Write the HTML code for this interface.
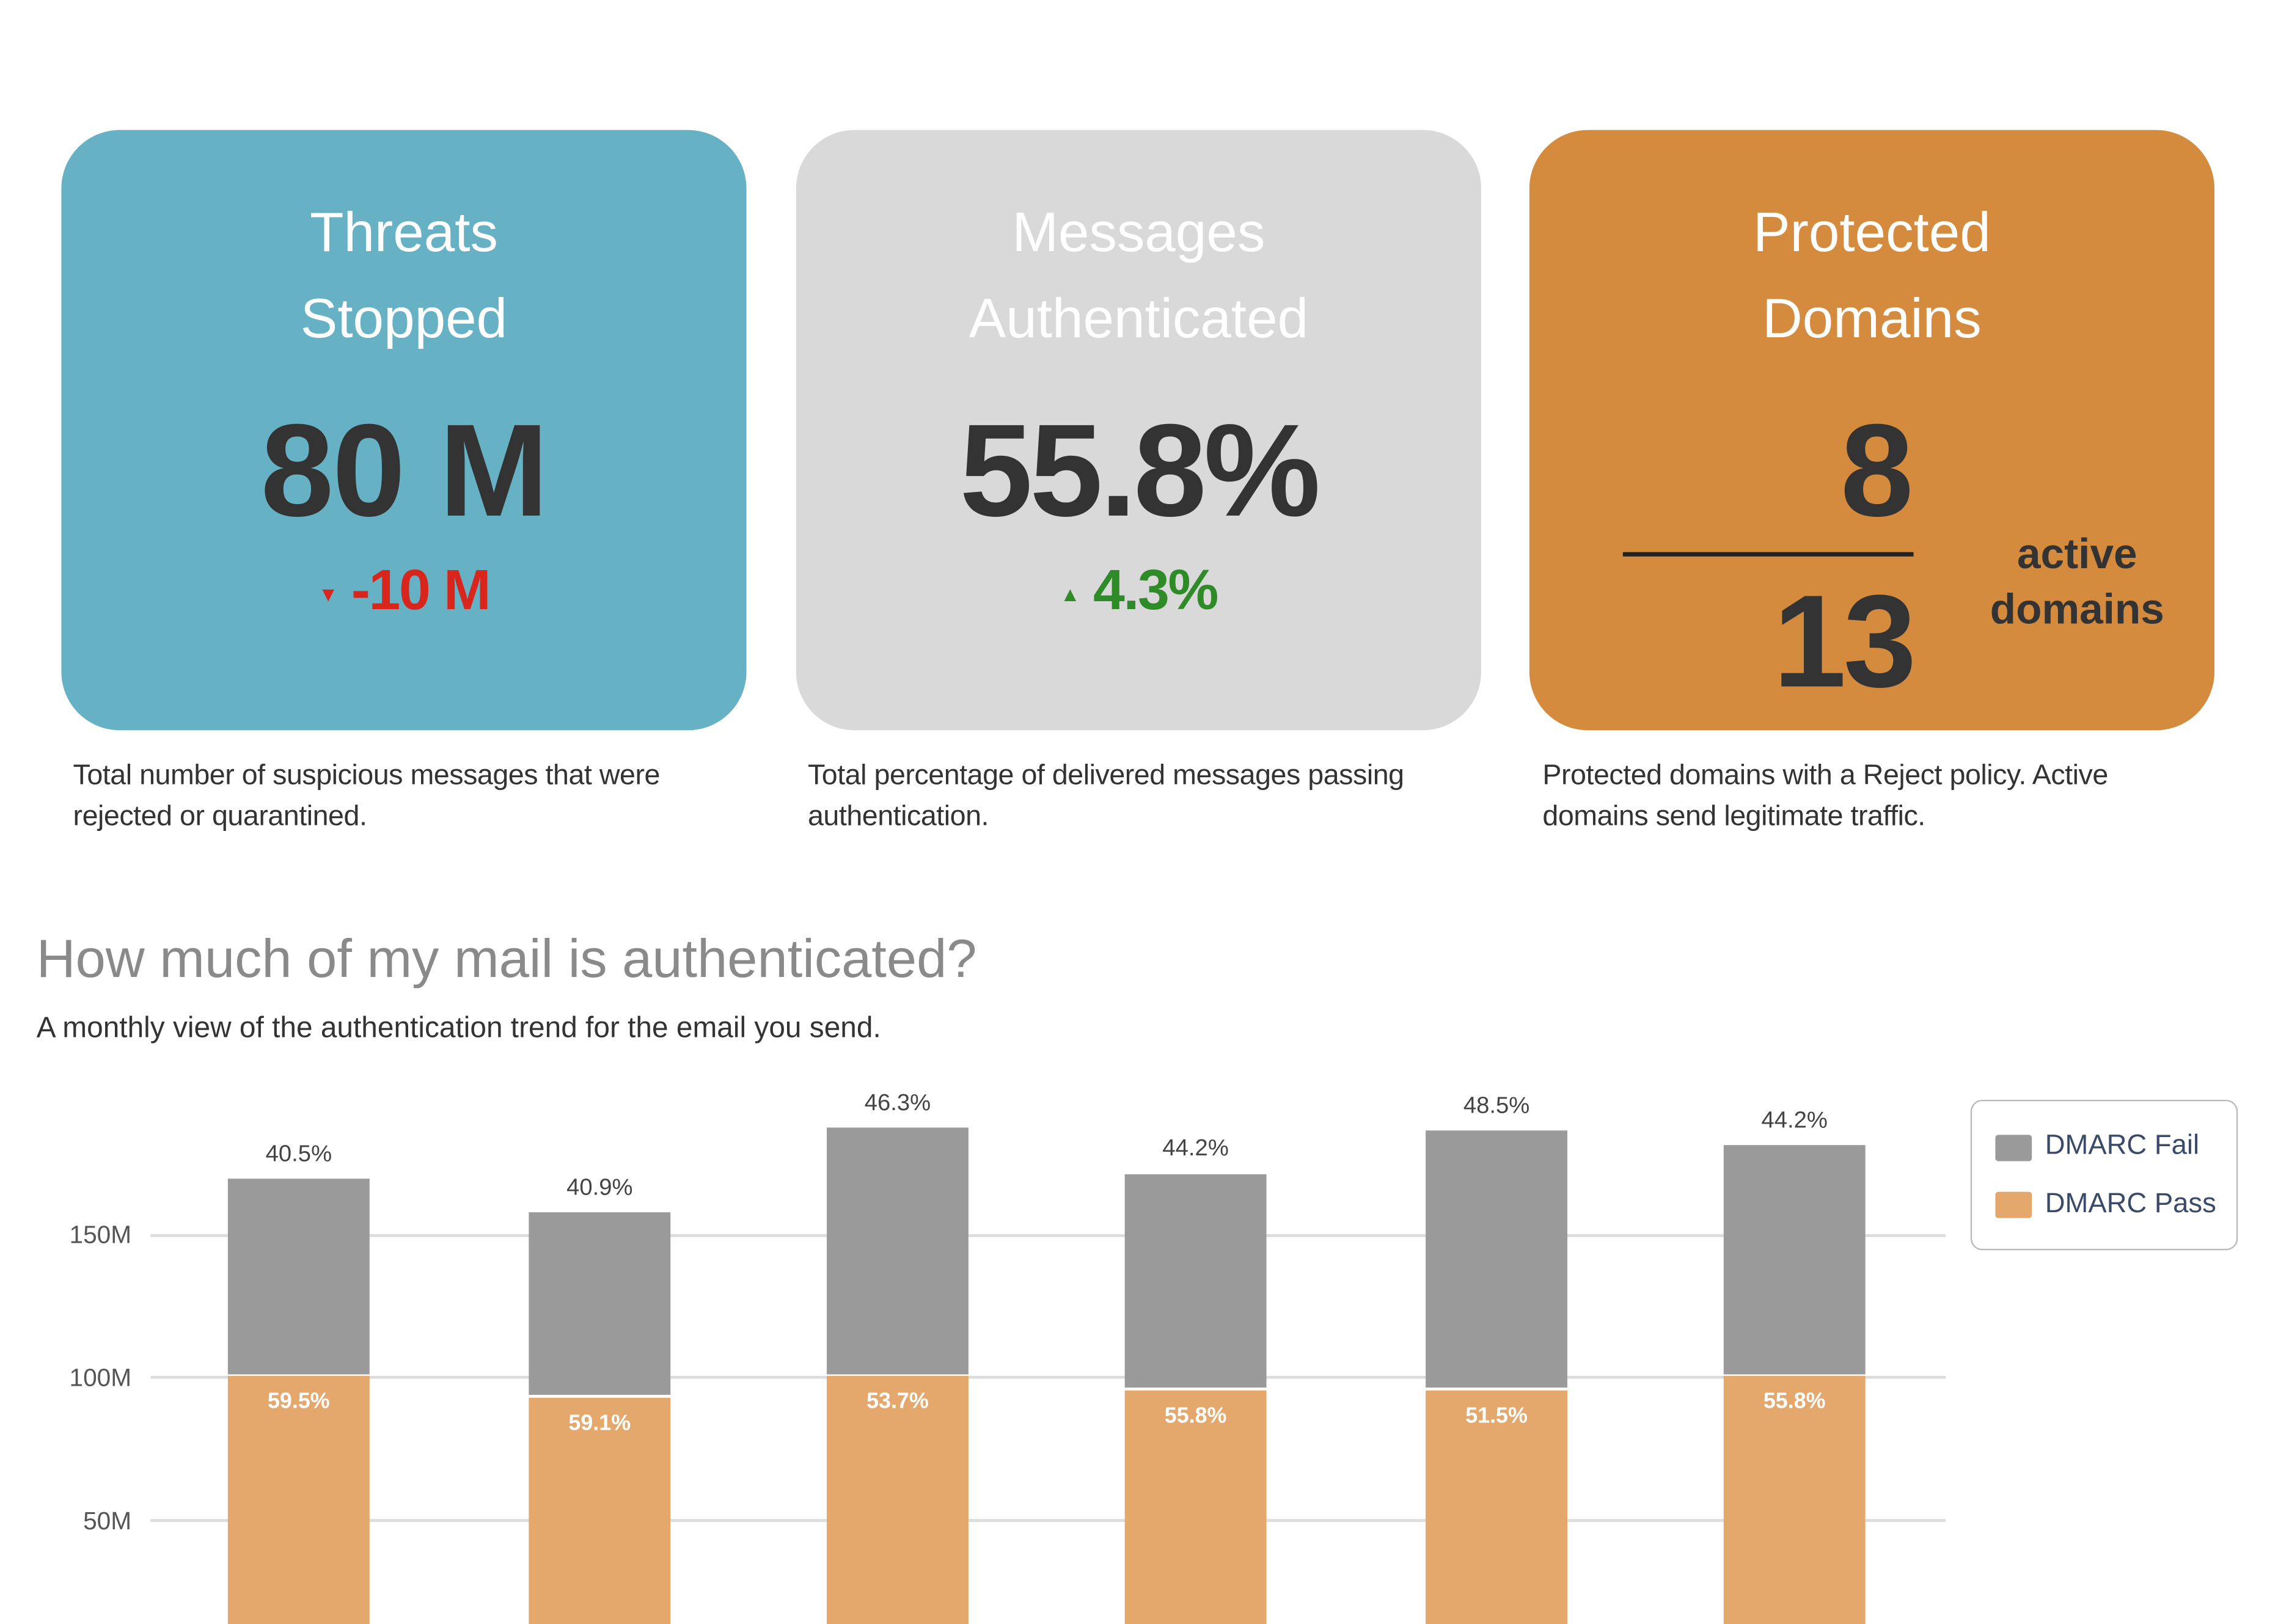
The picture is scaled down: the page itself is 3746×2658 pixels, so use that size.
<!DOCTYPE html>
<html><head><meta charset="utf-8"><style>
html,body{margin:0;padding:0;background:#fff;}
body{width:3746px;height:2658px;overflow:hidden;position:relative;font-family:"Liberation Sans",sans-serif;}
#w{position:absolute;left:0;top:0;width:1568px;height:1112px;transform:scale(2.3905);transform-origin:0 0;}
.card{position:absolute;top:89px;width:469px;height:411px;border-radius:40px;}
.t{position:absolute;left:0;width:100%;text-align:center;color:#fff;font-size:38px;line-height:59px;top:131px;}
.a{position:absolute;white-space:nowrap;}
.cap{position:absolute;top:517px;font-size:19.5px;line-height:28px;color:#333;letter-spacing:-0.2px}
.grid{position:absolute;left:103px;width:1229px;height:2px;background:#ddd;}
.yl{position:absolute;left:30px;width:60px;text-align:right;font-size:17px;color:#555;}
.bar{position:absolute;width:97px;}
.tl{position:absolute;width:97px;text-align:center;font-size:16px;color:#444;}
.il{position:absolute;width:97px;text-align:center;font-size:15px;color:#fff;font-weight:bold;}
.big{font-weight:bold;}
</style></head><body><div id="w">
<div class="card" style="left:42px;background:#66b2c4"></div>
<div class="card" style="left:545px;background:#d9d9d9"></div>
<div class="card" style="left:1047px;background:#d58b3d"></div>
<div class="t" style="left:42px;width:469px;">Threats<br>Stopped</div>
<div class="t" style="left:545px;width:469px;">Messages<br>Authenticated</div>
<div class="t" style="left:1047px;width:469px;">Protected<br>Domains</div>
<div class="a big" style="left:42px;width:469px;text-align:center;top:273px;font-size:90px;line-height:100px;color:#333;letter-spacing:-1px">80 M</div>
<div class="a big" style="left:42px;width:469px;text-align:center;top:382px;font-size:39px;line-height:46px;color:#d9261c;letter-spacing:-1px"><span style="font-size:14px;vertical-align:middle">▼</span> -10 M</div>
<div class="a big" style="left:545px;width:469px;text-align:center;top:273px;font-size:90px;line-height:100px;color:#333;letter-spacing:-2px">55.8%</div>
<div class="a big" style="left:545px;width:469px;text-align:center;top:382px;font-size:39px;line-height:46px;color:#2e8b27;letter-spacing:-1px"><span style="font-size:14px;vertical-align:middle">▲</span> 4.3%</div>
<div class="a big" style="left:1110px;width:200px;text-align:right;top:273px;font-size:90px;line-height:100px;color:#333">8</div>
<div class="a" style="left:1111px;top:378px;width:199px;height:3px;background:#222"></div>
<div class="a big" style="left:1110px;width:200px;text-align:right;top:390px;font-size:90px;line-height:100px;color:#333;letter-spacing:-2px">13</div>
<div class="a" style="left:1352px;width:140px;text-align:center;top:361px;font-size:29px;line-height:38px;color:#333;font-weight:bold">active<br>domains</div>
<div class="cap" style="left:50px">Total number of suspicious messages that were<br>rejected or quarantined.</div>
<div class="cap" style="left:553px">Total percentage of delivered messages passing<br>authentication.</div>
<div class="cap" style="left:1056px">Protected domains with a Reject policy. Active<br>domains send legitimate traffic.</div>
<div class="a" style="left:25px;top:636px;font-size:37px;color:#8a8a8a">How much of my mail is authenticated?</div>
<div class="a" style="left:25px;top:693px;font-size:20px;color:#333">A monthly view of the authentication trend for the email you send.</div>
<div class="grid" style="top:845px"></div><div class="grid" style="top:942px"></div><div class="grid" style="top:1040px"></div>
<div class="yl" style="top:836px">150M</div><div class="yl" style="top:934px">100M</div><div class="yl" style="top:1032px">50M</div>
<div class="bar" style="left:156px;top:807px;height:134px;background:#9a9a9a"></div><div class="bar" style="left:156px;top:942px;height:170px;background:#e4a86d"></div>
<div class="bar" style="left:362px;top:830px;height:125px;background:#9a9a9a"></div><div class="bar" style="left:362px;top:957px;height:155px;background:#e4a86d"></div>
<div class="bar" style="left:566px;top:772px;height:169px;background:#9a9a9a"></div><div class="bar" style="left:566px;top:942px;height:170px;background:#e4a86d"></div>
<div class="bar" style="left:770px;top:804px;height:146px;background:#9a9a9a"></div><div class="bar" style="left:770px;top:952px;height:160px;background:#e4a86d"></div>
<div class="bar" style="left:976px;top:774px;height:176px;background:#9a9a9a"></div><div class="bar" style="left:976px;top:952px;height:160px;background:#e4a86d"></div>
<div class="bar" style="left:1180px;top:784px;height:157px;background:#9a9a9a"></div><div class="bar" style="left:1180px;top:942px;height:170px;background:#e4a86d"></div>
<div class="tl" style="left:156px;top:782px">40.5%</div><div class="tl" style="left:362px;top:805px">40.9%</div><div class="tl" style="left:566px;top:747px">46.3%</div>
<div class="tl" style="left:770px;top:778px">44.2%</div><div class="tl" style="left:976px;top:749px">48.5%</div><div class="tl" style="left:1180px;top:759px">44.2%</div>
<div class="il" style="left:156px;top:951px">59.5%</div><div class="il" style="left:362px;top:966px">59.1%</div><div class="il" style="left:566px;top:951px">53.7%</div>
<div class="il" style="left:770px;top:961px">55.8%</div><div class="il" style="left:976px;top:961px">51.5%</div><div class="il" style="left:1180px;top:951px">55.8%</div>
<div class="a" style="left:1349px;top:753px;width:181px;height:101px;border:1.5px solid #bbb;border-radius:8px"></div>
<div class="a" style="left:1366px;top:777px;width:25px;height:18px;background:#9a9a9a;border-radius:2px"></div>
<div class="a" style="left:1366px;top:816px;width:25px;height:18px;background:#e4a86d;border-radius:2px"></div>
<div class="a" style="left:1400px;top:774px;font-size:19px;color:#3a4a6a">DMARC Fail</div>
<div class="a" style="left:1400px;top:814px;font-size:19px;color:#3a4a6a">DMARC Pass</div>
</div></body></html>
